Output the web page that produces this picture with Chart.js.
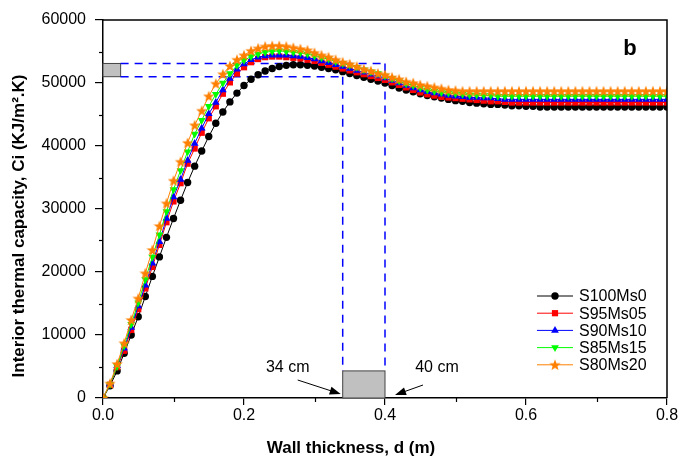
<!DOCTYPE html>
<html>
<head>
<meta charset="utf-8">
<script src="https://cdn.jsdelivr.net/npm/chart.js@4.4.1/dist/chart.umd.min.js"></script>
<style>
  html, body { margin: 0; padding: 0; background: #fff; }
  #c { display: block; }
</style>
</head>
<body>
<canvas id="c" width="682" height="457"></canvas>
<script>
// ── Data (wall thickness in m, Ci in KJ/m².K) ──────
const thickness = [
  0.00,0.01,0.02,0.03,0.04,0.05,0.06,0.07,0.08,0.09,
  0.10,0.11,0.12,0.13,0.14,0.15,0.16,0.17,0.18,0.19,
  0.20,0.21,0.22,0.23,0.24,0.25,0.26,0.27,0.28,0.29,
  0.30,0.31,0.32,0.33,0.34,0.35,0.36,0.37,0.38,0.39,
  0.40,0.41,0.42,0.43,0.44,0.45,0.46,0.47,0.48,0.49,
  0.50,0.51,0.52,0.53,0.54,0.55,0.56,0.57,0.58,0.59,
  0.60,0.61,0.62,0.63,0.64,0.65,0.66,0.67,0.68,0.69,
  0.70,0.71,0.72,0.73,0.74,0.75,0.76,0.77,0.78,0.79,
  0.80
];

const s100ms0 = [
  0,1950,4300,7100,10000,12900,16100,19300,22400,25500,
  28500,31400,34200,36800,39200,41500,43600,45400,47000,48400,
  49600,50600,51300,51900,52300,52600,52800,52900,52900,52800,
  52700,52500,52300,52100,51800,51500,51200,50900,50600,50300,
  50000,49600,49200,48900,48600,48300,48000,47800,47600,47400,
  47200,47100,46900,46800,46700,46600,46600,46500,46400,46400,
  46300,46300,46200,46200,46200,46200,46200,46200,46200,46200,
  46200,46200,46200,46200,46200,46200,46200,46200,46200,46200,
  46200
];

const s95ms05 = [
  0,2100,4900,7500,10800,14100,17400,20800,24300,27900,
  31200,34100,37200,39600,42100,44400,46300,48300,50100,51500,
  52500,53300,53800,54100,54200,54200,54100,54000,53900,53700,
  53500,53200,52900,52600,52300,52000,51700,51400,51100,50800,
  50500,50100,49700,49300,48900,48500,48200,48000,47800,47700,
  47600,47500,47400,47300,47200,47100,47100,47000,46900,46900,
  46900,46900,46900,46900,46900,46900,46900,46900,46900,46900,
  46900,46900,46900,46900,46900,46900,46900,46900,46900,46900,
  46900
];

const s90ms10 = [
  0,2200,5100,7900,11200,14600,17900,21400,24800,28500,
  31900,34700,37700,40400,42800,45100,46900,48900,50700,52200,
  53000,53700,54100,54300,54400,54400,54400,54300,54200,54000,
  53800,53500,53200,52900,52600,52300,52000,51700,51400,51100,
  50800,50400,50000,49600,49200,48900,48600,48400,48200,48000,
  47900,47800,47700,47700,47600,47600,47500,47400,47400,47400,
  47400,47400,47400,47400,47400,47400,47400,47400,47400,47400,
  47400,47400,47400,47400,47400,47400,47400,47400,47400,47400,
  47400
];

const s85ms15 = [
  0,2200,5000,8300,11700,15100,18800,22400,25900,29600,
  33100,36100,39100,41900,44100,46300,48200,50000,51500,52800,
  53600,54200,54600,54900,55000,55100,55000,54900,54800,54600,
  54300,54000,53800,53400,53100,52800,52500,52100,51800,51500,
  51100,50700,50300,49900,49600,49200,48900,48700,48500,48400,
  48300,48200,48100,48100,48000,48000,47900,47900,47900,47900,
  47900,47900,47900,47900,47900,47900,47900,47900,47900,47900,
  47900,47900,47900,47900,47900,47900,47900,47900,47900,47900,
  47900
];

const s80ms20 = [
  0,2300,5400,8700,12400,15800,19800,23500,27300,30900,
  34500,37500,40500,43300,45600,47900,49900,51400,52700,53700,
  54400,55100,55500,55800,55900,55900,55800,55600,55400,55200,
  54800,54400,54100,53700,53300,53000,52600,52200,51900,51500,
  51300,50900,50600,50200,50000,49700,49500,49300,49100,48900,
  48800,48700,48700,48700,48700,48700,48700,48700,48700,48700,
  48700,48700,48700,48700,48700,48700,48700,48700,48700,48700,
  48700,48700,48700,48700,48700,48700,48700,48700,48700,48700,
  48700
];

const seriesLabels = ["S100Ms0", "S95Ms05", "S90Ms10", "S85Ms15", "S80Ms20"];

// annotation values (data units)
const markBand   = [51000, 53100];   // Ci band marked on the left
const markLeftX  = 0.025;            // width of the small grey box on the y axis
const markWalls  = [0.34, 0.40];     // 34 cm and 40 cm
const markBoxTop = 4300;

const FONT = '"Liberation Sans", Arial, sans-serif';

// ── Point styles ───────────────────────────────────
function starImage(color) {
  const cv = document.createElement("canvas");
  cv.width = 12; cv.height = 12;
  const g = cv.getContext("2d");
  g.beginPath();
  for (let i = 0; i < 10; i++) {
    const r = i % 2 ? 2.5 : 6;
    const a = -Math.PI / 2 + i * Math.PI / 5;
    g.lineTo(6 + r * Math.cos(a), 6.4 + r * Math.sin(a));
  }
  g.closePath();
  g.fillStyle = color;
  g.fill();
  return cv;
}

const STYLES = [
  { color: "#000000", point: "circle",   radius: 3.7, rotation: 0 },
  { color: "#ff0000", point: "rect",     radius: 4.4, rotation: 0 },
  { color: "#0000ff", point: "triangle", radius: 4.5, rotation: 0 },
  { color: "#00ff00", point: "triangle", radius: 4.5, rotation: 180 },
  { color: "#ff8000", point: starImage("#ff8000"), radius: 5, rotation: 0 },
];

const seriesValues = [s100ms0, s95ms05, s90ms10, s85ms15, s80ms20];

const datasets = seriesValues.map((vals, i) => ({
  label: seriesLabels[i],
  data: thickness.map((t, k) => ({ x: t, y: vals[k] })),
  borderColor: STYLES[i].color,
  backgroundColor: STYLES[i].color,
  borderWidth: 1,
  pointStyle: STYLES[i].point,
  pointRadius: STYLES[i].radius,
  pointRotation: STYLES[i].rotation,
  pointBorderWidth: 0,
  pointBackgroundColor: STYLES[i].color,
  tension: 0,
  order: 5 - i,
}));

// ── Plugins ────────────────────────────────────────
function segment(ctx, x1, y1, x2, y2) {
  ctx.beginPath();
  ctx.moveTo(x1, y1);
  ctx.lineTo(x2, y2);
  ctx.stroke();
}

function arrow(ctx, x1, y1, x2, y2) {
  const a = Math.atan2(y2 - y1, x2 - x1);
  ctx.beginPath();
  ctx.moveTo(x1, y1);
  ctx.lineTo(x2 - 8 * Math.cos(a), y2 - 8 * Math.sin(a));
  ctx.stroke();
  ctx.beginPath();
  ctx.moveTo(x2, y2);
  ctx.lineTo(x2 - 11 * Math.cos(a) + 4 * Math.sin(a), y2 - 11 * Math.sin(a) - 4 * Math.cos(a));
  ctx.lineTo(x2 - 11 * Math.cos(a) - 4 * Math.sin(a), y2 - 11 * Math.sin(a) + 4 * Math.cos(a));
  ctx.closePath();
  ctx.fill();
}

const annotations = {
  id: "annotations",
  beforeDatasetsDraw(chart) {
    const { ctx, scales: { x, y } } = chart;
    const yLo = y.getPixelForValue(markBand[0]);
    const yHi = y.getPixelForValue(markBand[1]);
    const xA = x.getPixelForValue(markWalls[0]);
    const xB = x.getPixelForValue(markWalls[1]);
    const xL0 = x.getPixelForValue(0);
    const xL1 = x.getPixelForValue(markLeftX);
    const yBox = y.getPixelForValue(markBoxTop);
    const y0 = y.getPixelForValue(0);
    ctx.save();
    // grey boxes
    ctx.fillStyle = "#c0c0c0";
    ctx.strokeStyle = "#444";
    ctx.lineWidth = 1;
    ctx.fillRect(xL0, yHi, xL1 - xL0, yLo - yHi);
    ctx.strokeRect(xL0, yHi, xL1 - xL0, yLo - yHi);
    ctx.fillRect(xA, yBox, xB - xA, y0 - yBox);
    ctx.strokeRect(xA, yBox, xB - xA, y0 - yBox);
    // dashed guides
    ctx.strokeStyle = "#0000ff";
    ctx.lineWidth = 1.5;
    ctx.setLineDash([8, 6]);
    segment(ctx, xL1, yHi, xB, yHi);
    segment(ctx, xL1, yLo, xA, yLo);
    segment(ctx, xA, yLo, xA, yBox);
    segment(ctx, xB, yHi, xB, yBox);
    ctx.restore();
  },
  afterDraw(chart) {
    const { ctx, chartArea: ca, scales: { x, y } } = chart;
    ctx.save();
    // frame on top and right
    ctx.strokeStyle = "#000";
    ctx.lineWidth = 1.5;
    ctx.beginPath();
    ctx.moveTo(ca.left, ca.top);
    ctx.lineTo(ca.right, ca.top);
    ctx.lineTo(ca.right, ca.bottom);
    ctx.stroke();
    // minor ticks halfway between major ticks
    ctx.lineWidth = 1.2;
    const yt = y.ticks.map(t => t.value);
    for (let i = 0; i < yt.length - 1; i++) {
      const py = Math.round(y.getPixelForValue((yt[i] + yt[i + 1]) / 2)) + 0.5;
      segment(ctx, ca.left - 4, py, ca.left, py);
    }
    const xt = x.ticks.map(t => t.value);
    for (let i = 0; i < xt.length - 1; i++) {
      const px = Math.round(x.getPixelForValue((xt[i] + xt[i + 1]) / 2)) + 0.5;
      segment(ctx, px, ca.bottom, px, ca.bottom + 4);
    }
    // arrows + labels
    const xA = x.getPixelForValue(markWalls[0]);
    const xB = x.getPixelForValue(markWalls[1]);
    const y0 = y.getPixelForValue(0);
    ctx.fillStyle = "#000";
    ctx.lineWidth = 1;
    arrow(ctx, xA - 45, y0 - 18, xA - 2, y0 - 4);
    arrow(ctx, xB + 38, y0 - 13, xB + 10, y0 - 3);
    ctx.font = "16px " + FONT;
    ctx.textAlign = "center";
    ctx.textBaseline = "middle";
    ctx.fillText("34 cm", xA - 55, y0 - 30);
    ctx.fillText("40 cm", xB + 52, y0 - 30);
    // panel letter
    ctx.font = "bold 22px " + FONT;
    ctx.fillText("b", ca.right - 37, ca.top + 29);
    // axis titles
    ctx.font = "bold 17px " + FONT;
    ctx.fillText("Wall thickness, d (m)", (ca.left + ca.right) / 2 - 34, 448);
    ctx.translate(19, (ca.top + ca.bottom) / 2 + 17);
    ctx.rotate(-Math.PI / 2);
    ctx.fillText("Interior thermal capacity, Ci (KJ/m\u00B2.K)", 0, 0);
    ctx.restore();
  },
};

const legendBox = {
  id: "legendBox",
  afterDraw(chart) {
    const ctx = chart.ctx;
    ctx.save();
    ctx.font = "16px " + FONT;
    ctx.textAlign = "left";
    ctx.textBaseline = "middle";
    chart.data.datasets.forEach((ds, i) => {
      const yy = 296 + i * 17.2;
      ctx.strokeStyle = ds.borderColor;
      ctx.lineWidth = 1;
      ctx.beginPath();
      ctx.moveTo(537, yy);
      ctx.lineTo(573, yy);
      ctx.stroke();
      ctx.fillStyle = ds.borderColor;
      Chart.helpers.drawPoint(ctx, {
        pointStyle: ds.pointStyle,
        radius: ds.pointRadius,
        rotation: ds.pointRotation,
        borderWidth: 0,
      }, 555, yy);
      ctx.fillStyle = "#000";
      ctx.fillText(ds.label, 579, yy + 1);
    });
    ctx.restore();
  },
};

// ── Chart ──────────────────────────────────────────
new Chart(document.getElementById("c"), {
  type: "line",
  data: { datasets },
  options: {
    responsive: false,
    animation: false,
    devicePixelRatio: 1,
    layout: { padding: { top: 20, right: 15, left: 0, bottom: 0 } },
    plugins: { legend: { display: false }, tooltip: { enabled: false } },
    scales: {
      x: {
        type: "linear",
        min: 0,
        max: 0.8,
        ticks: {
          stepSize: 0.2,
          padding: 1,
          color: "#000",
          font: { family: FONT, size: 16 },
          callback: v => Number(v).toFixed(1),
        },
        grid: { drawOnChartArea: false, drawTicks: true, tickLength: 7, color: "#000", lineWidth: 1.2 },
        border: { display: true, color: "#000", width: 1.5 },
        afterFit: s => { s.height = 59; },
      },
      y: {
        min: 0,
        max: 60000,
        ticks: {
          stepSize: 10000,
          padding: 9,
          color: "#000",
          font: { family: FONT, size: 16 },
          callback: v => String(v),
        },
        grid: { drawOnChartArea: false, drawTicks: true, tickLength: 8, color: "#000", lineWidth: 1.2 },
        border: { display: true, color: "#000", width: 1.5 },
        afterFit: s => { s.width = 103; },
      },
    },
  },
  plugins: [annotations, legendBox],
});
</script>
</body>
</html>
